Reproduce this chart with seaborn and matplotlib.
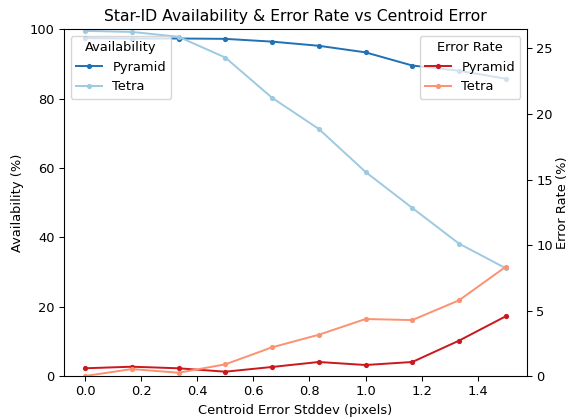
import numpy as np
import pandas as pd
import matplotlib
matplotlib.use("Agg")
import matplotlib.pyplot as plt
import seaborn as sns

centroid_err = [0.0, 1/6, 2/6, 0.5, 4/6, 5/6, 1.0, 7/6, 8/6, 1.5]
avail_pyramid = [97.5, 97.4, 97.4, 97.3, 96.5, 95.3, 93.4, 89.6, 88.1, 85.8]
avail_tetra = [99.6, 99.3, 97.9, 91.9, 80.3, 71.3, 58.9, 48.5, 38.2, 31.1]
err_pyramid = [0.59, 0.71, 0.59, 0.33, 0.69, 1.07, 0.84, 1.07, 2.7, 4.56]
err_tetra = [0.0, 0.53, 0.25, 0.89, 2.19, 3.15, 4.35, 4.27, 5.78, 8.34]

c_avail_pyr = "#2171b5"
c_avail_tet = "#9ecae1"
c_err_pyr = "#cb181d"
c_err_tet = "#fc9272"

s = 0.94
plt.rcParams["font.size"] = 10 * s
plt.rcParams["axes.titlesize"] = 12 * s
plt.rcParams["axes.linewidth"] = 0.8 * s
plt.rcParams["xtick.major.width"] = 0.8 * s
plt.rcParams["ytick.major.width"] = 0.8 * s
plt.rcParams["xtick.major.size"] = 3.5 * s
plt.rcParams["ytick.major.size"] = 3.5 * s

fig, ax = plt.subplots(figsize=(5.68, 4.19), dpi=100)
ax2 = ax.twinx()

kw = dict(marker="o", markersize=4 * s, markeredgewidth=0, linewidth=1.5 * s)
sns.lineplot(x=centroid_err, y=avail_pyramid, ax=ax, color=c_avail_pyr, label="Pyramid", **kw)
sns.lineplot(x=centroid_err, y=avail_tetra, ax=ax, color=c_avail_tet, label="Tetra", **kw)
sns.lineplot(x=centroid_err, y=err_pyramid, ax=ax2, color=c_err_pyr, label="Pyramid", **kw)
sns.lineplot(x=centroid_err, y=err_tetra, ax=ax2, color=c_err_tet, label="Tetra", **kw)

ax.set_ylim(0, 100)
ax2.set_ylim(0, 26.45)
ax.set_xlim(-0.075, 1.575)
ax.set_xlabel("Centroid Error Stddev (pixels)")
ax.set_ylabel("Availability (%)")
ax2.set_ylabel("Error Rate (%)", labelpad=2.5)
ax.set_title("Star-ID Availability & Error Rate vs Centroid Error")

ax.legend(loc="upper left", title="Availability")
ax2.legend(loc="upper right", title="Error Rate")

fig.subplots_adjust(left=0.1127, right=0.9275, top=0.9296, bottom=0.1026)
fig.savefig("out.png", dpi=100)
